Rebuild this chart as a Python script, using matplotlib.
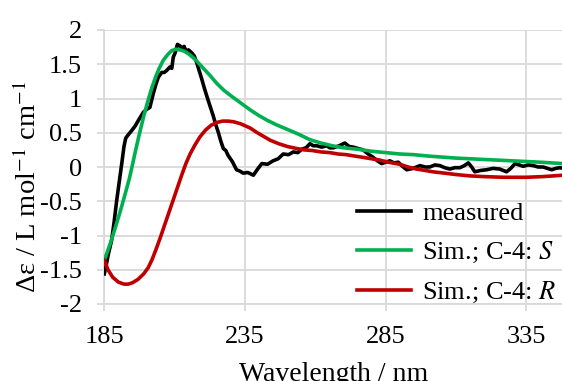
import matplotlib
matplotlib.use("Agg")
import matplotlib.pyplot as plt

# measured CD spectrum
wl_meas = [185.0, 185.6, 186.4, 187.6, 188.5, 189.4, 190.3, 191.2, 192.0, 192.6,
           193.5, 194.7, 196.0, 197.1, 198.0, 198.9, 200.0, 201.2, 202.4, 203.3,
           204.2, 205.4, 206.3, 207.2, 208.3, 209.0, 209.5, 210.3, 211.0, 211.8,
           212.6, 213.4, 214.1, 214.9, 216.0, 217.0, 217.8, 218.7, 219.6, 220.5,
           221.4, 222.5, 223.7, 224.6, 225.5, 226.4, 227.3, 228.2, 229.0, 230.5,
           232.0, 233.2, 234.4, 236.0, 238.0, 239.5, 241.0, 243.0, 245.0, 246.8,
           248.6, 250.5, 252.2, 253.8, 255.2, 256.7, 258.1, 259.3, 260.5, 262.3,
           264.0, 265.2, 266.4, 268.5, 270.5, 272.0, 273.5, 275.2, 277.0, 278.8,
           280.6, 282.1, 283.6, 285.0, 286.5, 288.0, 289.5, 290.7, 292.5, 294.8,
           297.2, 299.0, 300.7, 302.5, 304.3, 306.0, 307.8, 309.6, 311.4, 313.0,
           314.4, 315.6, 316.7, 318.8, 320.9, 323.2, 325.6, 326.8, 328.0, 329.5,
           331.0, 332.5, 333.9, 335.7, 337.5, 339.2, 341.0, 342.5, 344.0, 345.5,
           347.0, 348.0]
de_meas = [-1.56, -1.45, -1.28, -1.07, -0.80, -0.49, -0.22, 0.05, 0.30, 0.42,
           0.47, 0.53, 0.60, 0.68, 0.74, 0.80, 0.84, 0.87, 1.07, 1.20,
           1.31, 1.38, 1.38, 1.41, 1.46, 1.44, 1.60, 1.68, 1.79, 1.77,
           1.74, 1.76, 1.68, 1.71, 1.67, 1.62, 1.53, 1.41, 1.29, 1.16,
           1.04, 0.90, 0.75, 0.62, 0.51, 0.38, 0.27, 0.24, 0.17, 0.08,
           -0.04, -0.06, -0.09, -0.08, -0.12, -0.03, 0.05, 0.04, 0.09, 0.12,
           0.19, 0.18, 0.22, 0.21, 0.26, 0.28, 0.34, 0.31, 0.31, 0.29,
           0.31, 0.28, 0.28, 0.31, 0.35, 0.30, 0.29, 0.27, 0.25, 0.19,
           0.14, 0.09, 0.05, 0.07, 0.09, 0.06, 0.07, 0.02, -0.04, -0.02,
           0.02, 0.00, 0.00, 0.03, 0.02, -0.01, -0.03, -0.01, -0.01, 0.02,
           0.06, 0.00, -0.07, -0.05, -0.04, -0.02, -0.03, -0.05, -0.07, -0.02,
           0.05, 0.03, 0.01, 0.03, 0.02, 0.00, 0.00, -0.02, -0.04, -0.02,
           -0.01, -0.02]

# simulated spectrum, C-4 S configuration
wl_sim_s = [185, 186, 187.5, 189.4, 191, 192.5, 193.9, 195, 196, 197.4,
            199, 200.6, 202, 203.3, 204.5, 206, 207.5, 209, 210.5, 212,
            213.5, 215, 216.5, 218, 220, 222.5, 225, 227.5, 230, 232,
            235, 237, 240, 243, 246, 250, 254, 258, 262, 266,
            270, 275, 280, 285, 290, 295, 300, 310, 320, 330,
            340, 348]
de_sim_s = [-1.36, -1.25, -1.07, -0.82, -0.60, -0.38, -0.17, 0.03, 0.22, 0.47,
            0.74, 0.98, 1.17, 1.32, 1.44, 1.56, 1.64, 1.70, 1.72, 1.71,
            1.69, 1.65, 1.60, 1.54, 1.45, 1.34, 1.22, 1.12, 1.04, 0.98,
            0.89, 0.83, 0.75, 0.68, 0.62, 0.55, 0.48, 0.40, 0.35, 0.31,
            0.28, 0.26, 0.23, 0.21, 0.19, 0.18, 0.16, 0.13, 0.11, 0.09,
            0.07, 0.05]

# simulated spectrum, C-4 R configuration
wl_sim_r = [185, 186.3, 188, 190, 192, 193.5, 195, 197, 199, 200.6,
            202, 203.5, 205, 206.5, 208, 209.5, 211, 212.5, 214, 215.5,
            217.2, 219, 221, 223, 225, 227, 229, 231, 233.5, 236.8,
            239, 241.5, 244, 247, 250, 253.4, 256, 259, 262, 265.2,
            268, 271, 274, 277.1, 280, 283, 286, 290, 293, 296,
            299, 301.8, 306, 310, 315, 319.7, 327, 335, 341, 348]
de_sim_r = [-1.36, -1.50, -1.61, -1.68, -1.71, -1.71, -1.69, -1.64, -1.56, -1.47,
            -1.35, -1.19, -1.02, -0.84, -0.66, -0.48, -0.30, -0.12, 0.05, 0.19,
            0.32, 0.44, 0.54, 0.61, 0.65, 0.67, 0.67, 0.66, 0.63, 0.57,
            0.51, 0.45, 0.39, 0.34, 0.30, 0.27, 0.25, 0.24, 0.22, 0.21,
            0.19, 0.18, 0.16, 0.14, 0.12, 0.10, 0.07, 0.04, 0.00, -0.03,
            -0.05, -0.07, -0.09, -0.11, -0.13, -0.14, -0.15, -0.15, -0.14, -0.12]

x_ticks = [185, 235, 285, 335]
y_ticks = [-2, -1.5, -1, -0.5, 0, 0.5, 1, 1.5, 2]
y_tick_labels = ['-2', '-1.5', '-1', '-0.5', '0', '0.5', '1', '1.5', '2']

plt.rcParams['font.family'] = ['Liberation Serif', 'DejaVu Serif']
plt.rcParams['mathtext.fontset'] = 'stix'
plt.rcParams['font.size'] = 19

grid_col = '#d9d9d9'

fig = plt.figure(figsize=(5.62, 3.81), dpi=100)
ax = fig.add_axes([104.3 / 562, 77 / 381, (562 - 104.3) / 562, 274 / 381])

ax.plot(wl_meas, de_meas, color='black', lw=2.6, label='measured', zorder=3)
ax.plot(wl_sim_s, de_sim_s, color='#00b050', lw=2.6, label='Sim.; C-4: $\\mathit{S}$', zorder=4)
ax.plot(wl_sim_r, de_sim_r, color='#c00000', lw=2.6, label='Sim.; C-4: $\\mathit{R}$', zorder=4)

ax.set_xlim(185, 347.7)
ax.set_ylim(-2, 2)
ax.set_xticks(x_ticks)
ax.set_yticks(y_ticks)
ax.set_yticklabels(y_tick_labels)
ax.grid(True, color=grid_col, lw=1.3, zorder=0)
ax.set_axisbelow(True)
for s in ['top', 'right']:
    ax.spines[s].set_visible(False)
for s in ['left', 'bottom']:
    ax.spines[s].set_color(grid_col)
    ax.spines[s].set_linewidth(1.3)
ax.tick_params(axis='both', direction='out', length=5, width=1.3, color=grid_col,
               labelsize=19)
ax.tick_params(axis='y', pad=11)
ax.tick_params(axis='x', pad=10.5)

ax.set_xlabel('Wavelength / nm', fontsize=20)
ax.xaxis.set_label_coords(0.5, -0.213)
ax.set_ylabel('Δε / L mol$^{-1}$ cm$^{-1}$', fontsize=20.5)
ax.yaxis.set_label_coords(-0.136, 0.427)

leg = ax.legend(loc='upper left', bbox_to_anchor=(357 / 562, 1 - 201.5 / 381),
                bbox_transform=fig.transFigure, frameon=False, fontsize=19,
                handlelength=2.05, handletextpad=0.42, labelspacing=0.565,
                borderpad=0, borderaxespad=0)

fig.savefig('out.png', dpi=100)
